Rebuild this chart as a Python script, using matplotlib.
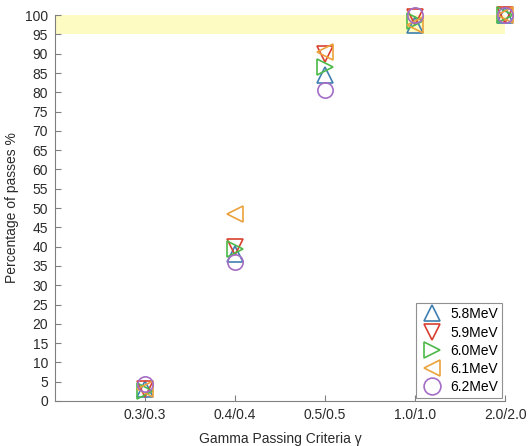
import matplotlib
matplotlib.use("Agg")
import matplotlib.pyplot as plt

plt.rcParams['font.family'] = ['Liberation Sans', 'DejaVu Sans']

criteria = ["0.3/0.3", "0.4/0.4", "0.5/0.5", "1.0/1.0", "2.0/2.0"]
energies = ["5.8MeV", "5.9MeV", "6.0MeV", "6.1MeV", "6.2MeV"]

pass_58 = [3.0, 38.0, 84.5, 97.5, 100.0]
pass_59 = [3.0, 40.0, 90.0, 99.5, 100.0]
pass_60 = [2.5, 39.5, 86.5, 98.5, 100.0]
pass_61 = [3.0, 48.5, 90.5, 97.5, 100.0]
pass_62 = [4.5, 36.0, 80.5, 100.0, 100.0]

series = [pass_58, pass_59, pass_60, pass_61, pass_62]
markers = ["^", "v", ">", "<", "o"]
colors = ["#3f80b0", "#d8412f", "#4db94a", "#eca23c", "#a46dc6"]

fig = plt.figure(figsize=(5.29, 4.46), dpi=100)
ax = fig.add_axes([0.104, 0.101, 0.851, 0.865])

x = list(range(1, len(criteria) + 1))

# acceptance band 95-100%
ax.axhspan(95, 100, color="#fdfbc2", zorder=0, lw=0)

for vals, m, c, lab in zip(series, markers, colors, energies):
    ax.plot(x, vals, linestyle="none", marker=m, markersize=11,
            markerfacecolor="none", markeredgecolor=c, markeredgewidth=1.2,
            label=lab, clip_on=False)

ax.set_xlim(0, 5)
ax.set_ylim(0, 100)
ax.set_xticks(x)
ax.set_xticklabels(criteria)
ax.set_yticks(range(0, 101, 5))

for s in ["top", "right"]:
    ax.spines[s].set_visible(False)
for s in ["left", "bottom"]:
    ax.spines[s].set_color("#808080")
    ax.spines[s].set_linewidth(0.8)

ax.tick_params(direction="in", length=4, width=0.8, color="#808080",
               labelsize=10, labelcolor="#2a2a2a", pad=5)

ax.set_xlabel("Gamma Passing Criteria \u03b3", fontsize=10, color="#2a2a2a",
              labelpad=7)
ax.set_ylabel("Percentage of passes %", fontsize=10, color="#2a2a2a")

leg = ax.legend(loc="lower right", bbox_to_anchor=(1.0, 0.0), fontsize=10,
                handletextpad=0.4, labelspacing=0.3, borderpad=0.3,
                borderaxespad=0.2, handlelength=1.8, markerscale=1.1,
                fancybox=False, framealpha=1)
leg.get_frame().set_edgecolor("#909090")
leg.get_frame().set_linewidth(0.8)

fig.savefig("out.png", dpi=100)
